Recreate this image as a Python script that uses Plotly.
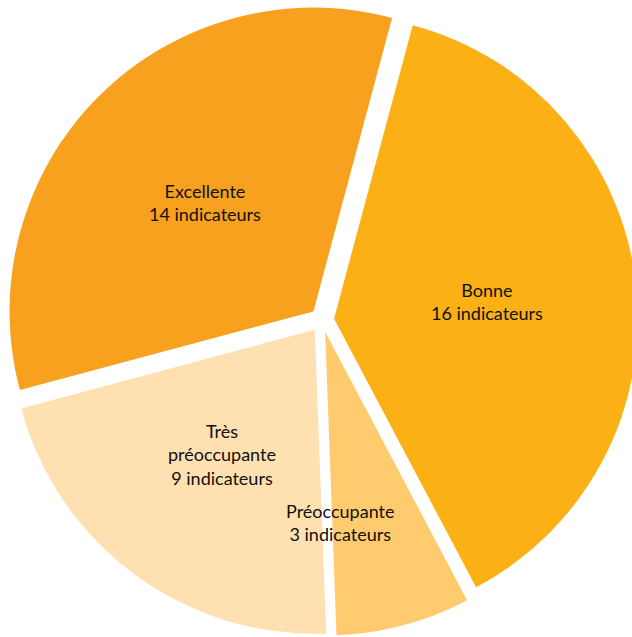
import plotly.graph_objects as go

categories = ["Bonne", "Préoccupante", "Très<br>préoccupante", "Excellente"]
values = [16, 3, 9, 14]
unit = "indicateurs"

colors = ["#FBB116", "#FFCB6E", "#FFE0B0", "#F7A11F"]
W, H = 638, 637
ML, MR, MT, MB = 6, 0, 3, 0
PW, PH = W - ML - MR, H - MT - MB
# label anchor positions in screen pixels (layout only)
label_px = [(487, 301), (340, 522), (222, 454), (205, 202)]

fig = go.Figure(go.Pie(
    labels=categories,
    values=values,
    sort=False,
    direction="clockwise",
    rotation=15,
    pull=[0.04] * len(values),
    marker=dict(colors=colors, line=dict(width=0)),
    textinfo="none",
    hoverinfo="label+value",
    showlegend=False,
))

annotations = []
for cat, v, (sx, sy) in zip(categories, values, label_px):
    fx = sx - ML
    fy = sy - MT
    annotations.append(dict(
        x=fx / PW, y=1 - fy / PH, xref="paper", yref="paper",
        text=f"{cat}<br>{v} {unit}", showarrow=False,
        xanchor="center", yanchor="middle", align="center",
        font=dict(family="Lato, Liberation Sans, sans-serif", size=18, color="#111111"),
    ))

fig.update_layout(
    width=W, height=H,
    margin=dict(l=ML, r=MR, t=MT, b=MB, pad=0),
    paper_bgcolor="white",
    annotations=annotations,
)

fig.write_html(
    "out.html",
    config={"displayModeBar": False},
    post_script="document.body.style.margin='0';document.body.style.overflow='hidden';"
                "document.documentElement.style.overflow='hidden';",
)
